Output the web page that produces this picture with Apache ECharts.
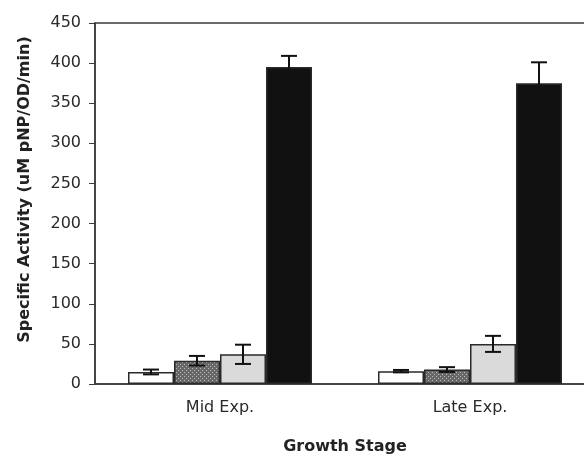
<!DOCTYPE html>
<html>
<head>
<meta charset="utf-8">
<script src="https://cdn.jsdelivr.net/npm/echarts@6/dist/echarts.min.js"></script>
<style>
html, body { margin: 0; padding: 0; background: #fff; overflow: hidden; }
#chart { width: 600px; height: 460px; }
</style>
</head>
<body>
<div id="chart"></div>
<script>
// growth stages on the x axis
const stages = ['Mid Exp.', 'Late Exp.'];

// four strains per stage, mean and error
const whiteVals = [15, 16];
const whiteErr = [3, 1.5];
const hatchVals = [29, 18];
const hatchErr = [6, 3];
const greyVals = [37, 50];
const greyErr = [12, 10];
const blackVals = [395, 375];
const blackErr = [14, 26];

const yMin = 0;
const yMax = 450;
const yStep = 50;

const catGap = 0.264;
const font = 'DejaVu Sans';

function hatchPattern() {
    const c = document.createElement('canvas');
    c.width = 4;
    c.height = 4;
    const g = c.getContext('2d');
    g.fillStyle = '#686868';
    g.fillRect(0, 0, 4, 4);
    g.fillStyle = '#bcbcbc';
    g.fillRect(0, 0, 1, 1);
    g.fillRect(2, 2, 1, 1);
    return c;
}

function barSeries(vals, fill) {
    return {
        type: 'bar',
        data: vals,
        barGap: '0%',
        barCategoryGap: (catGap * 100) + '%',
        itemStyle: { color: fill, borderColor: '#2a2a2a', borderWidth: 1.5 },
        silent: true
    };
}

function errSeries(vals, errs, idx) {
    return {
        type: 'custom',
        z: 5,
        silent: true,
        encode: { x: 0, y: [1, 2] },
        data: vals.map((v, i) => [i, v - errs[i], v + errs[i]]),
        renderItem: (params, api) => {
            const band = api.size([1, 0])[0];
            const barW = band * (1 - catGap) / 4;
            const lo = api.coord([api.value(0), api.value(1)]);
            const hi = api.coord([api.value(0), api.value(2)]);
            const x = lo[0] + (idx - 1.5) * barW;
            const st = { stroke: '#111', lineWidth: 2 };
            return {
                type: 'group',
                children: [
                    { type: 'line', shape: { x1: x, y1: lo[1], x2: x, y2: hi[1] }, style: st },
                    { type: 'line', shape: { x1: x - 8, y1: hi[1], x2: x + 8, y2: hi[1] }, style: st },
                    { type: 'line', shape: { x1: x - 8, y1: lo[1], x2: x + 8, y2: lo[1] }, style: st }
                ]
            };
        }
    };
}

const chart = echarts.init(document.getElementById('chart'));
chart.setOption({
    animation: false,
    backgroundColor: '#fff',
    grid: {
        left: 95, top: 23, width: 500, height: 361,
        show: true, borderColor: '#3a3a3a', borderWidth: 1.5
    },
    xAxis: {
        type: 'category',
        data: stages,
        name: 'Growth Stage',
        nameLocation: 'middle',
        nameGap: 55,
        nameTextStyle: { fontFamily: font, fontWeight: 'bold', fontSize: 16, color: '#222' },
        axisLine: { lineStyle: { color: '#3a3a3a', width: 1.5 } },
        axisTick: { length: 4, lineStyle: { color: '#3a3a3a' } },
        axisLabel: { fontFamily: font, fontSize: 16, color: '#2a2a2a', margin: 16 }
    },
    yAxis: {
        type: 'value',
        min: yMin,
        max: yMax,
        interval: yStep,
        name: 'Specific Activity (uM pNP/OD/min)',
        nameLocation: 'middle',
        nameGap: 62,
        nameTextStyle: {
            fontFamily: font, fontWeight: 'bold', fontSize: 16, color: '#222',
            padding: [0, 0, 0, 28]
        },
        axisLine: { show: true, lineStyle: { color: '#3a3a3a', width: 1.5 } },
        axisTick: { show: true, length: 6, lineStyle: { color: '#3a3a3a' } },
        axisLabel: { fontFamily: font, fontSize: 16, color: '#2a2a2a', margin: 14 },
        splitLine: { show: false }
    },
    series: [
        barSeries(whiteVals, '#ffffff'),
        barSeries(hatchVals, { image: hatchPattern(), repeat: 'repeat' }),
        barSeries(greyVals, '#dadada'),
        barSeries(blackVals, '#111111'),
        errSeries(whiteVals, whiteErr, 0),
        errSeries(hatchVals, hatchErr, 1),
        errSeries(greyVals, greyErr, 2),
        errSeries(blackVals, blackErr, 3)
    ]
});
</script>
</body>
</html>
